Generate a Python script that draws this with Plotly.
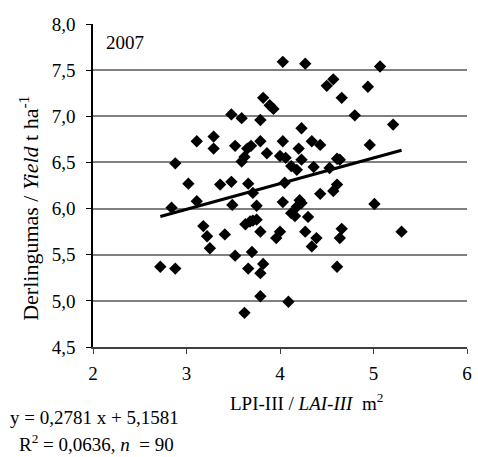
import plotly.graph_objects as go

lai = [2.72, 2.88, 2.84, 2.88, 3.02, 3.11, 3.11, 3.18, 3.22, 3.25,
       3.29, 3.29, 3.36, 3.41, 3.48, 3.48, 3.49, 3.52, 3.52, 3.59,
       3.59, 3.62, 3.62, 3.63, 3.65, 3.69, 3.66, 3.66, 3.68, 3.70,
       3.71, 3.71, 3.75, 3.75, 3.79, 3.79, 3.82, 3.79, 3.79, 3.79,
       3.82, 3.89, 3.93, 3.86, 3.96, 4.00, 4.00, 4.03, 4.03, 4.03,
       4.05, 4.06, 4.09, 4.12, 4.12, 4.16, 4.18, 4.18, 4.20, 4.21,
       4.23, 4.23, 4.23, 4.27, 4.27, 4.30, 4.34, 4.34, 4.36, 4.39,
       4.43, 4.43, 4.50, 4.53, 4.57, 4.57, 4.61, 4.61, 4.64, 4.61,
       4.64, 4.66, 4.66, 4.80, 4.94, 4.96, 5.01, 5.07, 5.21, 5.30]
yield_t = [5.37, 5.35, 6.01, 6.49, 6.27, 6.73, 6.08, 5.81, 5.70, 5.57,
           6.78, 6.65, 6.26, 5.72, 7.02, 6.29, 6.04, 6.68, 5.49, 6.98,
           6.51, 6.56, 4.87, 5.83, 6.65, 6.68, 6.27, 5.35, 5.86, 5.53,
           5.87, 6.17, 6.03, 5.88, 5.75, 5.30, 5.40, 5.05, 6.73, 6.96,
           7.20, 7.12, 7.08, 6.60, 5.68, 5.75, 6.57, 7.59, 6.73, 6.07,
           6.28, 6.55, 4.99, 6.46, 5.95, 5.92, 6.42, 6.02, 6.65, 6.09,
           6.06, 6.87, 6.53, 7.57, 5.75, 5.91, 6.73, 5.59, 6.45, 5.68,
           6.69, 6.16, 7.33, 6.44, 7.40, 6.19, 6.26, 6.54, 6.53, 5.37,
           5.68, 5.78, 7.20, 7.01, 7.32, 6.69, 6.05, 7.54, 6.91, 5.75]

slope = 0.2781
intercept = 5.1581
r2_text = "0,0636"
n_text = "90"
year_label = "2007"
x_ticks = [2, 3, 4, 5, 6]
y_ticks = [4.5, 5.0, 5.5, 6.0, 6.5, 7.0, 7.5, 8.0]

FONT = "Liberation Serif, Times New Roman, serif"
FS = 19

xmin, xmax = min(lai), max(lai)
trend_x = [xmin, xmax]
trend_y = [slope * v + intercept for v in trend_x]

fig = go.Figure()
fig.add_trace(go.Scatter(
    x=lai, y=yield_t, mode="markers",
    marker=dict(symbol="diamond", size=9.5, color="black", line=dict(width=0)),
    showlegend=False, hoverinfo="x+y"))
fig.add_trace(go.Scatter(
    x=trend_x, y=trend_y, mode="lines",
    line=dict(color="black", width=3), showlegend=False))

fig.update_layout(
    width=478, height=457,
    margin=dict(l=93, r=11, t=24, b=110, autoexpand=False),
    paper_bgcolor="white", plot_bgcolor="white",
    font=dict(family=FONT, size=FS, color="black"),
    separators=", ",
    xaxis=dict(
        range=[2, 6], tickvals=x_ticks, ticktext=[str(v) for v in x_ticks],
        showgrid=False, zeroline=False,
        showline=True, linecolor="#404040", linewidth=2,
        ticks="outside", ticklen=5, tickcolor="#404040", tickwidth=1,
        tickfont=dict(family=FONT, size=FS), ticklabelstandoff=3,
    ),
    yaxis=dict(
        range=[4.5, 8.0], tickvals=y_ticks, tickformat=".1f",
        showgrid=True, gridcolor="#808080", gridwidth=1.5,
        zeroline=False,
        showline=True, linecolor="black", linewidth=1.5,
        ticks="outside", ticklen=5, tickcolor="black", tickwidth=1,
        tickfont=dict(family=FONT, size=FS), ticklabelstandoff=7,
    ),
    annotations=[
        dict(text="Derlingumas / <i>Yield</i> t ha<sup>-1</sup>",
             xref="paper", yref="paper", x=-0.172, y=0.43, textangle=-90,
             xanchor="center", yanchor="middle", showarrow=False,
             font=dict(family=FONT, size=22)),
        dict(text="LPI-III / <i>LAI-III</i> &nbsp;m<sup>2</sup>",
             xref="paper", yref="paper", x=0.572, y=-0.170,
             xanchor="center", yanchor="middle", showarrow=False,
             font=dict(family=FONT, size=FS)),
        dict(text=year_label, xref="paper", yref="paper", x=0.03, y=0.944,
             xanchor="left", yanchor="middle", showarrow=False,
             font=dict(family=FONT, size=FS)),
        dict(text=f"y = {str(slope).replace('.', ',')} x + {str(intercept).replace('.', ',')}",
             xref="paper", yref="paper", x=-0.227, y=-0.217,
             xanchor="left", yanchor="middle", showarrow=False,
             font=dict(family=FONT, size=FS)),
        dict(text=f"R<sup>2</sup> = {r2_text}, <i>n</i> &nbsp;= {n_text}",
             xref="paper", yref="paper", x=-0.203, y=-0.297,
             xanchor="left", yanchor="middle", showarrow=False,
             font=dict(family=FONT, size=FS)),
    ],
)

fig.write_html("out.html", config={"displayModeBar": False},
               post_script="document.body.style.margin='0px';")
